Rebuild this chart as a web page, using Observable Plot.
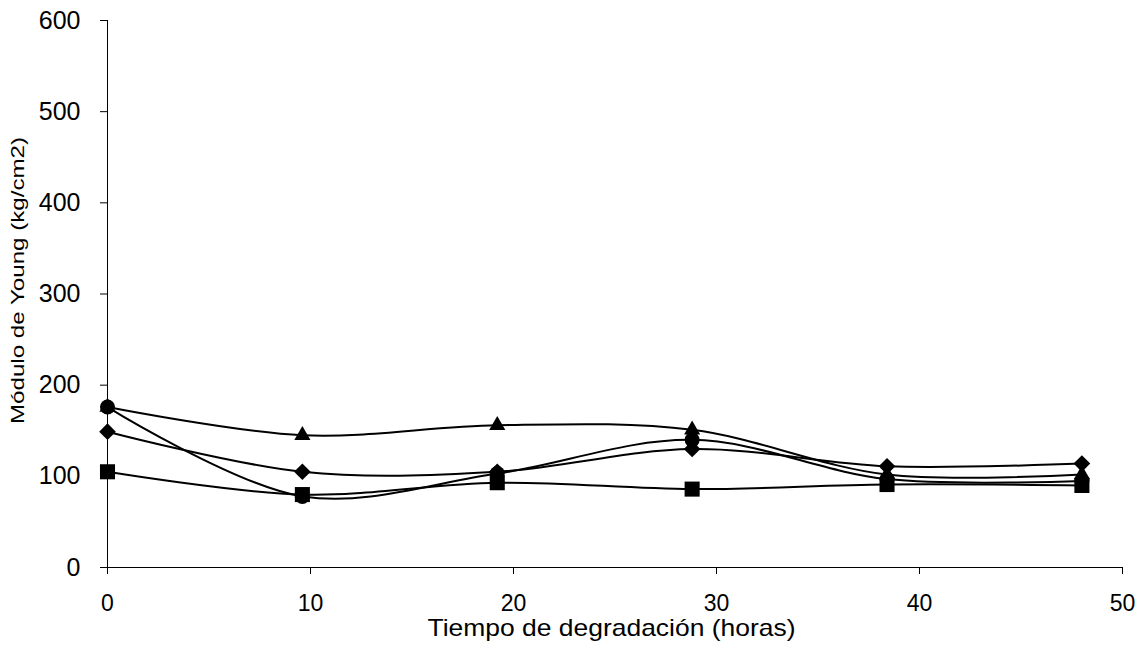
<!DOCTYPE html>
<html>
<head>
<meta charset="utf-8">
<script src="https://cdn.jsdelivr.net/npm/d3@7"></script>
<script src="https://cdn.jsdelivr.net/npm/@observablehq/plot@0.6"></script>
<style>
  html, body { margin: 0; padding: 0; background: #fff; }
  #chart svg { display: block; font-family: "Liberation Sans", Arial, sans-serif; }
</style>
</head>
<body>
<div id="chart"></div>
<script>
const horas = [0, 9.6, 19.2, 28.8, 38.4, 48];
const serieCuadrado = [105, 80, 93, 86, 91, 90];
const serieCirculo = [176, 78, 103, 140, 97, 95];
const serieRombo = [149, 105, 105, 130, 111, 114];
const serieTriangulo = [176, 145, 156, 151, 102, 102];
const xTicks = [0, 10, 20, 30, 40, 50];
const yTicks = [0, 100, 200, 300, 400, 500, 600];

const series = [
  {name: "cuadrado", symbol: "square", values: serieCuadrado, r: 8.5},
  {name: "circulo", symbol: "circle", values: serieCirculo, r: 7.5},
  {name: "rombo", symbol: "diamond2", values: serieRombo, r: 7.5},
  {name: "triangulo", symbol: "triangle", values: serieTriangulo, r: 6}
];

const rows = series.flatMap(s => horas.map((h, i) => ({serie: s.name, x: h, y: s.values[i]})));

const marks = [];
for (const s of series) {
  const data = rows.filter(d => d.serie === s.name);
  marks.push(Plot.line(data, {x: "x", y: "y", curve: "catmull-rom", stroke: "#000", strokeWidth: 2}));
}
for (const s of series) {
  const data = rows.filter(d => d.serie === s.name);
  marks.push(Plot.dot(data, {x: "x", y: "y", symbol: s.symbol, r: s.r, fill: "#000", stroke: "none"}));
}

marks.push(Plot.axisX({ticks: xTicks, tickSize: 7, tickPadding: 20, fontSize: 23, label: null, stroke: "#000"}));
marks.push(Plot.axisY({ticks: yTicks, tickSize: 7, tickPadding: 20, fontSize: 25, label: null, stroke: "#000"}));
marks.push(Plot.ruleX([0], {stroke: "#000", strokeWidth: 1}));
marks.push(Plot.ruleY([0], {stroke: "#000", strokeWidth: 1}));
marks.push(Plot.text(["Tiempo de degradación (horas)"], {frameAnchor: "bottom", textAnchor: "start", dx: -187.5, dy: 68, fontSize: 24, fill: "#000", className: "xtitle"}));
marks.push(Plot.text(["Módulo de Young (kg/cm2)"], {frameAnchor: "left", textAnchor: "start", dx: -89, dy: 130, rotate: -90, fontSize: 18, fill: "#000", className: "ytitle"}));

const chart = Plot.plot({
  width: 1144,
  height: 663,
  marginLeft: 107,
  marginRight: 22,
  marginTop: 20,
  marginBottom: 96,
  style: {fontFamily: "Liberation Sans, Arial, sans-serif", color: "#000", background: "#fff"},
  x: {domain: [0, 50]},
  y: {domain: [0, 600]},
  marks
});
document.getElementById("chart").appendChild(chart);
// stretch the titles to the reference's lengths
const yt = chart.querySelector(".ytitle text");
if (yt) { yt.setAttribute("textLength", "287"); yt.setAttribute("lengthAdjust", "spacingAndGlyphs"); }
const xt = chart.querySelector(".xtitle text");
if (xt) { xt.setAttribute("textLength", "368"); xt.setAttribute("lengthAdjust", "spacingAndGlyphs"); }
</script>
</body>
</html>
